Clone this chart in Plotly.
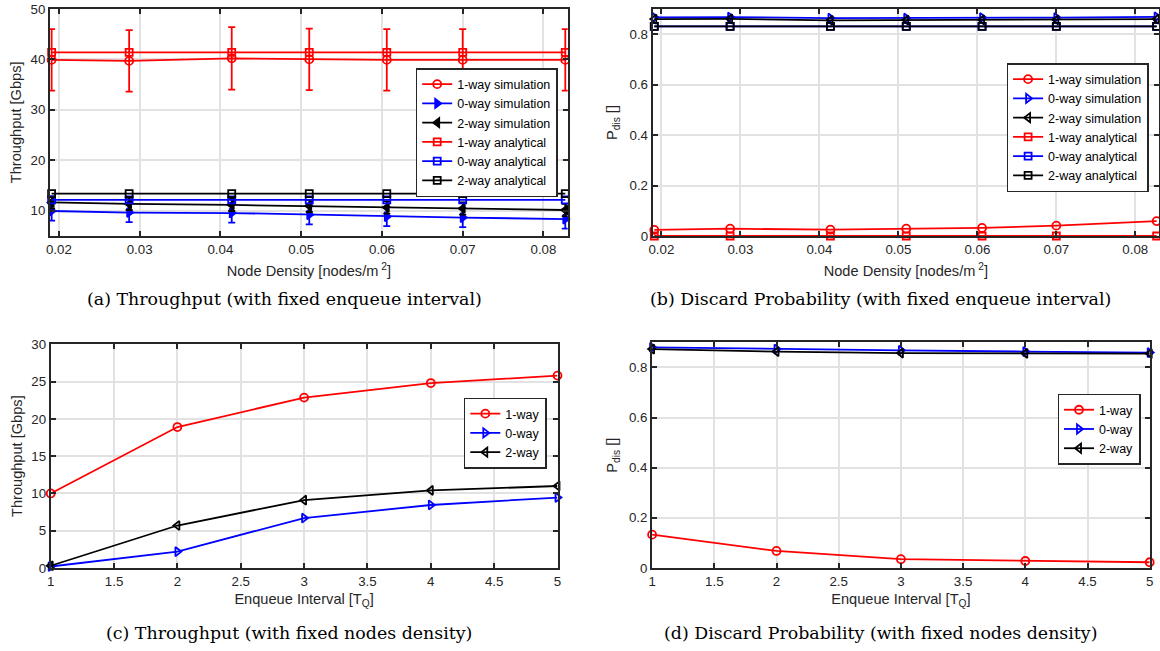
import plotly.graph_objects as go

# ---- data -------------------------------------------------------------
density = [0.0191, 0.0287, 0.0414, 0.0510, 0.0606, 0.0700, 0.0827]

tp_sim_1way = [39.9, 39.7, 40.2, 40.0, 39.9, 39.9, 39.9]
tp_sim_1way_err = [6.1, 6.1, 6.2, 6.1, 6.1, 6.1, 6.1]
tp_sim_0way = [9.9, 9.6, 9.5, 9.15, 8.8, 8.6, 8.3]
tp_sim_0way_err = [1.9, 1.9, 1.9, 1.9, 1.9, 1.9, 1.9]
tp_sim_2way = [11.6, 11.3, 11.1, 10.9, 10.6, 10.4, 10.1]
tp_sim_2way_err = [1.2, 1.2, 1.2, 1.2, 1.2, 1.2, 1.2]
tp_ana_1way = [41.4, 41.4, 41.4, 41.4, 41.4, 41.4, 41.4]
tp_ana_0way = [12.1, 12.1, 12.1, 12.1, 12.1, 12.1, 12.1]
tp_ana_2way = [13.35, 13.35, 13.35, 13.35, 13.35, 13.35, 13.35]

pd_sim_1way = [0.024, 0.029, 0.025, 0.029, 0.032, 0.041, 0.059]
pd_sim_0way = [0.867, 0.868, 0.864, 0.864, 0.866, 0.866, 0.869]
pd_sim_2way = [0.860, 0.861, 0.855, 0.856, 0.857, 0.857, 0.860]
pd_ana_1way = [0.0, 0.0, 0.0, 0.0, 0.0, 0.0, 0.0]
pd_ana_0way = [0.831, 0.831, 0.831, 0.831, 0.831, 0.831, 0.831]
pd_ana_2way = [0.831, 0.831, 0.831, 0.831, 0.831, 0.831, 0.831]

interval = [1, 2, 3, 4, 5]
tpq_1way = [10.0, 18.9, 22.85, 24.8, 25.8]
tpq_0way = [0.2, 2.2, 6.7, 8.45, 9.45]
tpq_2way = [0.3, 5.7, 9.1, 10.4, 11.0]
pdq_1way = [0.133, 0.068, 0.035, 0.028, 0.023]
pdq_0way = [0.880, 0.873, 0.868, 0.863, 0.859]
pdq_2way = [0.873, 0.863, 0.857, 0.856, 0.855]

captions = [
    "(a) Throughput (with fixed enqueue interval)",
    "(b) Discard Probability (with fixed enqueue interval)",
    "(c) Throughput (with fixed nodes density)",
    "(d) Discard Probability (with fixed nodes density)",
]

# ---- styling ----------------------------------------------------------
W, H = 1160, 651
RED, BLUE, BLACK = "#ff0000", "#0000ff", "#000000"
AX = "#262626"
GRID = "#e2e2e2"
SANS = "Liberation Sans, Arial, sans-serif"
SERIF = "DejaVu Serif, serif"
TICK_FS = 13.3
TITLE_FS = 14.6
LEG_FS = 12.5


def px_x(v):
    return v / W


def px_y(v):
    return 1 - v / H


fig = go.Figure()


def line(x, y, color, symbol, name, xa, ya, leg, err=None, size=8):
    tr = go.Scatter(
        x=x, y=y, name=name, mode="lines+markers",
        line=dict(color=color, width=1.8),
        marker=dict(symbol=symbol, size=size, color=color,
                    line=dict(color=color, width=1.8)),
        xaxis=xa, yaxis=ya, legend=leg, cliponaxis=False,
    )
    if err is not None:
        tr.error_y = dict(type="data", array=err, visible=True,
                          color=color, thickness=1.8, width=3.5)
    fig.add_trace(tr)


# (a) throughput vs node density
line(density, tp_sim_1way, RED, "circle-open", "1-way simulation", "x", "y", "legend", tp_sim_1way_err)
line(density, tp_sim_0way, BLUE, "triangle-right", "0-way simulation", "x", "y", "legend", tp_sim_0way_err)
line(density, tp_sim_2way, BLACK, "triangle-left", "2-way simulation", "x", "y", "legend", tp_sim_2way_err)
line(density, tp_ana_1way, RED, "square-open", "1-way analytical", "x", "y", "legend", size=7)
line(density, tp_ana_0way, BLUE, "square-open", "0-way analytical", "x", "y", "legend", size=7)
line(density, tp_ana_2way, BLACK, "square-open", "2-way analytical", "x", "y", "legend", size=7)

# (b) discard probability vs node density
line(density, pd_sim_1way, RED, "circle-open", "1-way simulation", "x2", "y2", "legend2")
line(density, pd_sim_0way, BLUE, "triangle-right-open", "0-way simulation", "x2", "y2", "legend2")
line(density, pd_sim_2way, BLACK, "triangle-left-open", "2-way simulation", "x2", "y2", "legend2")
line(density, pd_ana_1way, RED, "square-open", "1-way analytical", "x2", "y2", "legend2", size=7)
line(density, pd_ana_0way, BLUE, "square-open", "0-way analytical", "x2", "y2", "legend2", size=7)
line(density, pd_ana_2way, BLACK, "square-open", "2-way analytical", "x2", "y2", "legend2", size=7)

# (c) throughput vs enqueue interval
line(interval, tpq_1way, RED, "circle-open", "1-way", "x3", "y3", "legend3")
line(interval, tpq_0way, BLUE, "triangle-right-open", "0-way", "x3", "y3", "legend3")
line(interval, tpq_2way, BLACK, "triangle-left-open", "2-way", "x3", "y3", "legend3")

# (d) discard probability vs enqueue interval
line(interval, pdq_1way, RED, "circle-open", "1-way", "x4", "y4", "legend4")
line(interval, pdq_0way, BLUE, "triangle-right-open", "0-way", "x4", "y4", "legend4")
line(interval, pdq_2way, BLACK, "triangle-left-open", "2-way", "x4", "y4", "legend4")


def axis(domain_px, rng, dtick, tick0, title, anchor, standoff):
    if anchor.startswith("y"):
        dom = [px_x(domain_px[0]), px_x(domain_px[1])]
    else:
        dom = [px_y(domain_px[1]), px_y(domain_px[0])]
    return dict(
        domain=dom, range=rng, dtick=dtick, tick0=tick0, anchor=anchor,
        showline=True, linecolor=AX, linewidth=2, mirror="ticks",
        ticks="inside", ticklen=5, tickwidth=1.5, tickcolor=AX,
        showgrid=True, gridcolor=GRID, gridwidth=1.5, zeroline=False,
        tickfont=dict(family=SANS, size=TICK_FS, color=AX),
        title=dict(text=title, font=dict(family=SANS, size=TITLE_FS, color=AX),
                   standoff=standoff),
        automargin=False, fixedrange=True,
    )


xt_density = "Node Density [nodes/m<sup> 2</sup>]"
xt_interval = "Enqueue Interval [T<sub>Q</sub>]"

A = dict(x=(50, 567.7), y=(9, 235.7))
B = dict(x=(652.7, 1159), y=(9, 236))
C = dict(x=(50.7, 557.5), y=(344.3, 568))
D = dict(x=(652.1, 1149.7), y=(342.3, 568))

dens_range = [0.0189, 0.0830]

fig.update_layout(
    width=W, height=H,
    margin=dict(l=0, r=0, t=0, b=0),
    paper_bgcolor="white", plot_bgcolor="white",
    font=dict(family=SANS, color=AX),
    xaxis=axis(A["x"], dens_range, 0.01, 0.0, xt_density, "y", 10),
    yaxis=axis(A["y"], [5, 50], 10, 0, "Throughput [Gbps]", "x", 5),
    xaxis2=axis(B["x"], dens_range, 0.01, 0.0, xt_density, "y2", 10),
    yaxis2=axis(B["y"], [0, 0.9], 0.2, 0, "P<sub>dis</sub> []", "x2", 8),
    xaxis3=axis(C["x"], [1, 5], 0.5, 1, xt_interval, "y3", 6),
    yaxis3=axis(C["y"], [0, 30], 5, 0, "Throughput [Gbps]", "x3", 5),
    xaxis4=axis(D["x"], [1, 5], 0.5, 1, xt_interval, "y4", 6),
    yaxis4=axis(D["y"], [0, 0.9], 0.2, 0, "P<sub>dis</sub> []", "x4", 8),
)


def legend(x_right, y_top):
    return dict(
        x=px_x(x_right), y=px_y(y_top), xanchor="right", yanchor="top",
        bgcolor="white", bordercolor=AX, borderwidth=1.5,
        font=dict(family=SANS, size=LEG_FS, color="#000000"),
        itemwidth=30, tracegroupgap=0,
    )


fig.update_layout(
    legend=legend(557.7, 68),
    legend2=legend(1148.6, 63),
    legend3=legend(546.8, 397.5),
    legend4=legend(1140.5, 393.6),
)

# sub-figure captions
cap_pos = [(284, 299), (880.6, 299), (288.5, 633.3), (880.6, 633.3)]
for text, (cx, cy) in zip(captions, cap_pos):
    fig.add_annotation(
        text=text, x=px_x(cx), y=px_y(cy), xref="paper", yref="paper",
        xanchor="center", yanchor="middle", showarrow=False,
        font=dict(family=SERIF, size=17.4, color="#000000"),
    )

fig.write_html("out.html")
